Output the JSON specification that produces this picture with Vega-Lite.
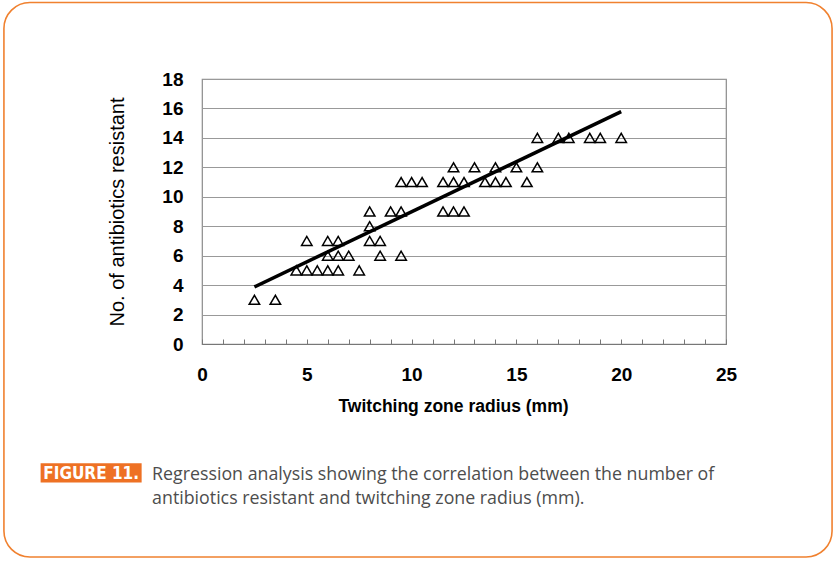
{
  "$schema": "https://vega.github.io/schema/vega-lite/v6.json",
  "width": 524,
  "height": 265,
  "autosize": {"type": "none"},
  "padding": {"left": 202, "top": 79, "right": 113, "bottom": 220},
  "background": "white",
  "config": {
    "view": {"stroke": "#8a8a8a", "strokeWidth": 1.2},
    "font": "Liberation Sans",
    "axisX": {
      "titleFont": "Liberation Sans", "titleFontSize": 17.5, "titleFontWeight": "bold", "titleColor": "black", "titlePadding": 13, "titleX": 251,
      "labelExpr": "datum.value % 5 === 0 ? datum.label : ''",
      "labelOverlap": false, "labelFlush": false,
      "labelFont": "Liberation Sans", "labelFontSize": 19, "labelFontWeight": "bold", "labelColor": "black", "labelPadding": 26,
      "tickSize": -5, "tickColor": "#777", "tickWidth": 1,
      "domain": true, "domainColor": "#777", "domainWidth": 1.2,
      "grid": true, "gridColor": "#777", "gridWidth": 1.2,
      "gridOpacity": {"condition": {"test": "datum.value % 5 === 0 && datum.value > 0 && datum.value < 25", "value": 1}, "value": 0}
    },
    "axisY": {
      "titleFont": "Liberation Sans", "titleFontSize": 20, "titleFontWeight": "normal", "titleColor": "black", "titlePadding": 34,
      "labelOverlap": false, "labelFlush": false,
      "labelFont": "Liberation Sans", "labelFontSize": 19, "labelFontWeight": "bold", "labelColor": "black", "labelPadding": 19,
      "ticks": false, "domain": false,
      "grid": true, "gridColor": "#999", "gridWidth": 1
    }
  },
  "datasets": {
    "pts": [
      {"x": 2.5, "y": 3}, {"x": 3.5, "y": 3},
      {"x": 4.5, "y": 5}, {"x": 5, "y": 5}, {"x": 5.5, "y": 5}, {"x": 6, "y": 5}, {"x": 6.5, "y": 5}, {"x": 7.5, "y": 5},
      {"x": 6, "y": 6}, {"x": 6.5, "y": 6}, {"x": 7, "y": 6}, {"x": 8.5, "y": 6}, {"x": 9.5, "y": 6},
      {"x": 5, "y": 7}, {"x": 6, "y": 7}, {"x": 6.5, "y": 7}, {"x": 8, "y": 7}, {"x": 8.5, "y": 7},
      {"x": 8, "y": 8},
      {"x": 8, "y": 9}, {"x": 9, "y": 9}, {"x": 9.5, "y": 9}, {"x": 11.5, "y": 9}, {"x": 12, "y": 9}, {"x": 12.5, "y": 9},
      {"x": 9.5, "y": 11}, {"x": 10, "y": 11}, {"x": 10.5, "y": 11}, {"x": 11.5, "y": 11}, {"x": 12, "y": 11}, {"x": 12.5, "y": 11}, {"x": 13.5, "y": 11}, {"x": 14, "y": 11}, {"x": 14.5, "y": 11}, {"x": 15.5, "y": 11},
      {"x": 12, "y": 12}, {"x": 13, "y": 12}, {"x": 14, "y": 12}, {"x": 15, "y": 12}, {"x": 16, "y": 12},
      {"x": 16, "y": 14}, {"x": 17, "y": 14}, {"x": 17.5, "y": 14}, {"x": 18.5, "y": 14}, {"x": 19, "y": 14}, {"x": 20, "y": 14}
    ],
    "fit": [
      {"x": 2.5, "y": 3.88},
      {"x": 20, "y": 15.78}
    ],
    "one": [{"k": 1}]
  },
  "layer": [
    {
      "data": {"name": "pts"},
      "mark": {"type": "point", "shape": "triangle-up", "filled": false, "stroke": "black", "strokeWidth": 1.5, "size": 110, "opacity": 1},
      "encoding": {
        "x": {
          "field": "x", "type": "quantitative",
          "scale": {"domain": [0, 25], "nice": false, "zero": false},
          "axis": {"title": "Twitching zone radius (mm)", "values": [0,1,2,3,4,5,6,7,8,9,10,11,12,13,14,15,16,17,18,19,20,21,22,23,24,25]}
        },
        "y": {
          "field": "y", "type": "quantitative",
          "scale": {"domain": [0, 18], "nice": false, "zero": false},
          "axis": {"title": "No. of antibiotics resistant", "values": [0,2,4,6,8,10,12,14,16,18]}
        }
      }
    },
    {
      "data": {"name": "fit"},
      "mark": {"type": "line", "color": "black", "strokeWidth": 3.5},
      "encoding": {
        "x": {"field": "x", "type": "quantitative", "axis": {"title": "Twitching zone radius (mm)", "values": [0,1,2,3,4,5,6,7,8,9,10,11,12,13,14,15,16,17,18,19,20,21,22,23,24,25]}},
        "y": {"field": "y", "type": "quantitative", "axis": {"title": "No. of antibiotics resistant", "values": [0,2,4,6,8,10,12,14,16,18]}}
      }
    },
    {
      "data": {"name": "one"},
      "mark": {"type": "rect", "clip": false, "fill": null, "stroke": "#f0812f", "strokeWidth": 1.6, "cornerRadius": 26},
      "encoding": {
        "x": {"datum": -9.45, "type": "quantitative", "axis": {"title": "Twitching zone radius (mm)", "values": [0,1,2,3,4,5,6,7,8,9,10,11,12,13,14,15,16,17,18,19,20,21,22,23,24,25]}},
        "x2": {"datum": 30.06},
        "y": {"datum": 23.2, "type": "quantitative", "axis": {"title": "No. of antibiotics resistant", "values": [0,2,4,6,8,10,12,14,16,18]}},
        "y2": {"datum": -14.47}
      }
    },
    {
      "data": {"name": "one"},
      "mark": {"type": "rect", "clip": false, "fill": "#ee7124", "stroke": null},
      "encoding": {
        "x": {"datum": -7.7, "type": "quantitative", "axis": {"title": "Twitching zone radius (mm)", "values": [0,1,2,3,4,5,6,7,8,9,10,11,12,13,14,15,16,17,18,19,20,21,22,23,24,25]}},
        "x2": {"datum": -2.88},
        "y": {"datum": -8.1, "type": "quantitative", "axis": {"title": "No. of antibiotics resistant", "values": [0,2,4,6,8,10,12,14,16,18]}},
        "y2": {"datum": -9.4}
      }
    },
    {
      "data": {"name": "one"},
      "mark": {"type": "text", "clip": false, "text": "FIGURE 11.", "color": "white", "font": "'DejaVu Sans Condensed', 'Open Sans', sans-serif", "fontWeight": "bold", "fontSize": 17, "align": "center", "baseline": "middle"},
      "encoding": {
        "x": {"datum": -5.29, "type": "quantitative", "axis": {"title": "Twitching zone radius (mm)", "values": [0,1,2,3,4,5,6,7,8,9,10,11,12,13,14,15,16,17,18,19,20,21,22,23,24,25]}},
        "y": {"datum": -8.8, "type": "quantitative", "axis": {"title": "No. of antibiotics resistant", "values": [0,2,4,6,8,10,12,14,16,18]}}
      }
    },
    {
      "data": {"name": "one"},
      "mark": {"type": "text", "clip": false, "text": "Regression analysis showing the correlation between the number of", "color": "#4d4d4d", "font": "Open Sans", "fontSize": 17.8, "align": "left", "baseline": "middle"},
      "encoding": {
        "x": {"datum": -2.38, "type": "quantitative", "axis": {"title": "Twitching zone radius (mm)", "values": [0,1,2,3,4,5,6,7,8,9,10,11,12,13,14,15,16,17,18,19,20,21,22,23,24,25]}},
        "y": {"datum": -8.9, "type": "quantitative", "axis": {"title": "No. of antibiotics resistant", "values": [0,2,4,6,8,10,12,14,16,18]}}
      }
    },
    {
      "data": {"name": "one"},
      "mark": {"type": "text", "clip": false, "text": "antibiotics resistant and twitching zone radius (mm).", "color": "#4d4d4d", "font": "Open Sans", "fontSize": 17.8, "align": "left", "baseline": "middle"},
      "encoding": {
        "x": {"datum": -2.38, "type": "quantitative", "axis": {"title": "Twitching zone radius (mm)", "values": [0,1,2,3,4,5,6,7,8,9,10,11,12,13,14,15,16,17,18,19,20,21,22,23,24,25]}},
        "y": {"datum": -10.53, "type": "quantitative", "axis": {"title": "No. of antibiotics resistant", "values": [0,2,4,6,8,10,12,14,16,18]}}
      }
    }
  ]
}
